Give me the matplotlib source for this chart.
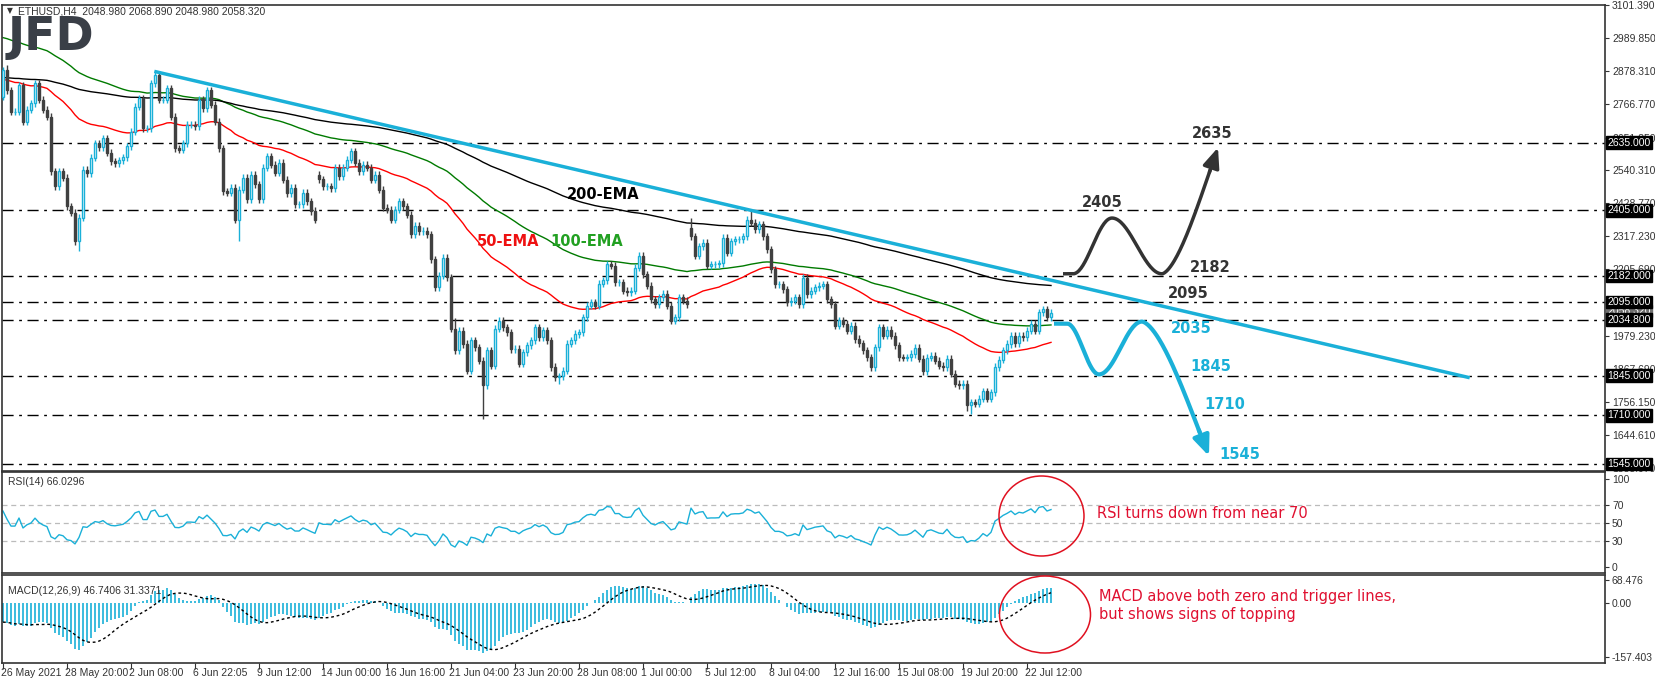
import numpy as np
import matplotlib
matplotlib.use("Agg")
import matplotlib.pyplot as plt
from matplotlib.patches import Ellipse
import matplotlib.transforms as mtrans

plt.rcParams['font.family'] = ['DejaVu Sans']
SMALL = dict(family='Liberation Sans', size=7.5)

# ---------------- data ----------------
closes = [
2880,2813,2740,2740,2830,2706,2746,2768,2836,2780,
2746,2723,2538,2487,2538,2515,2419,2397,2301,2380,
2543,2531,2583,2633,2620,2650,2600,2571,2565,2575,
2585,2622,2672,2757,2785,2684,2684,2836,2864,2780,
2780,2819,2723,2616,2611,2633,2695,2695,2690,2780,
2752,2813,2763,2706,2616,2470,2465,2481,2374,2475,
2515,2442,2526,2493,2442,2549,2588,2560,2532,2566,
2509,2464,2481,2425,2425,2464,2436,2403,2374,2510,
2487,2487,2481,2549,2520,2549,2577,2605,2566,2538,
2560,2549,2509,2526,2475,2414,2408,2374,2408,2436,
2419,2391,2324,2352,2335,2335,2324,2239,2144,2183,
2245,2178,2003,1930,1997,1952,1862,1964,1941,1896,
1812,1930,1879,2003,2031,
2008,1992,1935,1935,1885,1924,1947,1964,2008,1975,
1998,1964,1874,1840,1843,1862,1953,1964,1986,1992,
2042,2082,2093,2082,2157,2168,2222,2217,2161,2162,
2133,2127,2133,2211,2251,2189,2149,2104,2087,2110,
2123,2082,2031,2042,2110,2098,2087,2318,2251,2284,
2295,2217,2222,2222,2225,2313,2262,2301,2307,2307,
2318,2374,2363,2341,2358,2318,2273,2206,2155,2155,
2138,2093,2098,2110,2087,2177,2121,
2132,2144,2149,2155,2104,2087,2014,2033,2020,1997,
2014,1969,1955,1930,1907,1874,1941,2008,1980,2000,
1980,1947,1907,1905,1907,1918,1939,1902,1860,1905,
1913,1896,1879,1874,1902,1851,1817,1812,1817,1744,
1755,1750,1766,1792,1766,1789,1874,1899,1930,1952,
1980,1955,1980,1975,1997,2020,1997,2059,2070,2042,
2058.32]
first_open = 2790
open_gaps = {79: 2525, 172: 2346}
high_marks = {0: 2890, 1: 2898, 38: 2878, 172: 2378, 187: 2402, 113: 2040}
low_marks = {19: 2267, 59: 2301, 120: 1699, 241: 1725, 242: 1716, 139: 1815}
wick = 12

ema_seeds = {50: 2847, 100: 2993, 200: 2855}
ema_colors = {50: '#ff0000', 100: '#007a00', 200: '#000000'}

tick_labels = ["26 May 2021", "28 May 20:00", "2 Jun 08:00", "6 Jun 22:05", "9 Jun 12:00",
               "14 Jun 00:00", "16 Jun 16:00", "21 Jun 04:00", "23 Jun 20:00", "28 Jun 08:00",
               "1 Jul 00:00", "5 Jul 12:00", "8 Jul 04:00", "12 Jul 16:00", "15 Jul 08:00",
               "19 Jul 20:00", "22 Jul 12:00"]
tick_step = 16

price_ticks = [3101.390, 2989.850, 2878.310, 2766.770, 2651.850, 2540.310, 2428.770, 2317.230,
               2205.690, 1979.230, 1867.690, 1756.150, 1644.610, 1533.070]
levels = [2635.0, 2405.0, 2182.0, 2095.0, 2034.8, 1845.0, 1710.0, 1545.0]
last_price = 2058.32

trend_pts = [(38.25, 2875), (366.25, 1839)]
up_path = [(265, 2190), (267.5, 2190), (277.25, 2379), (289.75, 2190), (303.75, 2618)]
down_path = [(262.75, 2021), (266, 2021), (274, 1849), (284.75, 2028), (301.5, 1572)]

up_labels = [("2635", 302.25, 2666), ("2405", 274.75, 2433), ("2182", 301.75, 2210), ("2095", 296.25, 2122)]
dn_labels = [("2035", 297, 2004), ("1845", 302, 1876), ("1710", 305.5, 1748), ("1545", 309.25, 1579)]

# ---------------- derived ----------------
c = np.array(closes, dtype=float)
n = len(c)
x = np.arange(n)
o = np.empty(n)
o[0] = first_open
o[1:] = c[:-1]
for k, v in open_gaps.items():
    o[k] = v
hi = np.maximum(o, c) + wick
lo = np.minimum(o, c) - wick
for k, v in high_marks.items():
    hi[k] = max(hi[k], v)
for k, v in low_marks.items():
    lo[k] = min(lo[k], v)

def ema(vals, period, seed):
    a = 2.0 / (period + 1)
    out = np.empty(len(vals))
    prev = seed
    for i, v in enumerate(vals):
        prev = prev + a * (v - prev)
        out[i] = prev
    return out

d = np.diff(np.concatenate([[first_open], c]))
ag, al = 14.0, 12.0
rsi = np.empty(n)
for i, dv in enumerate(d):
    ag = (ag * 13 + max(dv, 0)) / 14
    al = (al * 13 + max(-dv, 0)) / 14
    rsi[i] = 100 - 100 / (1 + ag / al)

e12 = ema(c, 12, c[0]); e26 = ema(c, 26, c[0] + 60)
macd = e12 - e26
sig = np.array([macd[max(0, i - 8):i + 1].mean() for i in range(n)])

# ---------------- figure ----------------
fig = plt.figure(figsize=(16.55, 6.84), dpi=100)
W, H = 1655, 684
def axrect(top, bottom):
    return [2 / W, (H - bottom) / H, (1605 - 2) / W, (bottom - top) / H]
ax = fig.add_axes(axrect(5, 471))
axr = fig.add_axes(axrect(472, 573))
axm = fig.add_axes(axrect(575, 663))

xl = (-0.25, 400.5)
for a in (ax, axr, axm):
    a.set_xlim(*xl)
    for s in a.spines.values():
        s.set_color('#333333'); s.set_linewidth(1.2)
    a.yaxis.tick_right()
    a.tick_params(axis='y', colors='#333333', length=3, pad=2, labelcolor='#333333')
    a.tick_params(axis='x', length=0, labelbottom=False)

def style_ylabels(a):
    for t in a.get_yticklabels():
        t.set_fontfamily('Liberation Sans'); t.set_fontsize(7.5)

CY = '#1ab0d8'
ax.set_ylim(1521.4, 3094.6)
ax.set_yticks(price_ticks)
ax.set_yticklabels(["%.3f" % v for v in price_ticks])

bull = c >= o
ax.vlines(x, lo, hi, colors=np.where(bull, CY, '#404040'), linewidth=1, zorder=3)
ax.bar(x[bull], (c - o)[bull], bottom=o[bull], width=0.62, facecolor='white', edgecolor=CY, linewidth=1, zorder=4)
ax.bar(x[~bull], (c - o)[~bull], bottom=o[~bull], width=0.62, facecolor='#404040', edgecolor='#404040', linewidth=1, zorder=4)

for p, s in ema_seeds.items():
    ax.plot(x, ema(c, p, s), color=ema_colors[p], lw=1, zorder=2)

for lv in levels:
    ax.axhline(lv, color='black', lw=1, ls=(0, (8, 4, 2, 4)), zorder=1)

bt = mtrans.blended_transform_factory(ax.transAxes, ax.transData)
for lv in levels:
    ax.text(1.0015, lv, "%.3f" % lv, transform=bt, color='white', va='center', ha='left',
            bbox=dict(boxstyle='square,pad=0.12', fc='black', ec='black'), zorder=10, clip_on=False, **SMALL)
ax.text(1.0015, last_price + 6, "%.3f" % last_price, transform=bt, color='white', va='center',
        ha='left', bbox=dict(boxstyle='square,pad=0.12', fc='#707070', ec='#707070'), zorder=9, clip_on=False, **SMALL)

ax.plot([p[0] for p in trend_pts], [p[1] for p in trend_pts], color=CY, lw=2.5, zorder=5)

def scen_path(pts):
    xs, ys = [pts[0][0], pts[1][0]], [pts[0][1], pts[1][1]]
    for j in (1, 2):
        (x0, y0), (x1, y1) = pts[j], pts[j + 1]
        t = np.linspace(0, 1, 40)
        xs += list(x0 + (x1 - x0) * t); ys += list(y0 + (y1 - y0) * (1 - np.cos(np.pi * t)) / 2)
    (x0, y0), (x1, y1) = pts[3], pts[4]
    t = np.linspace(0, 1, 60)
    xs += list(x0 + (x1 - x0) * t)
    ys += list(y0 + (y1 - y0) * (1 - np.cos(np.pi / 2 * t)) ** 0.8)
    return np.array(xs), np.array(ys)

for pts, col, lw in ((up_path, '#333333', 2.5), (down_path, CY, 3)):
    px, py = scen_path(pts)
    ax.plot(px[:-8], py[:-8], color=col, lw=lw, zorder=6, solid_capstyle='butt')
    ax.annotate('', xy=(px[-1], py[-1]), xytext=(px[-10], py[-10]),
                arrowprops=dict(arrowstyle='-|>,head_length=1.2,head_width=0.5', color=col, lw=lw,
                                shrinkA=0, shrinkB=0), zorder=7)

for t_, xx, yy in up_labels:
    ax.text(xx, yy, t_, color='#333333', fontsize=10.5, fontweight='bold', ha='center', va='center', zorder=8)
for t_, xx, yy in dn_labels:
    ax.text(xx, yy, t_, color=CY, fontsize=10.5, fontweight='bold', ha='center', va='center', zorder=8)

ax.text(150, 2460, "200-EMA", color='black', fontsize=10.5, fontweight='bold', ha='center', va='center')
ax.text(126.25, 2301, "50-EMA", color='#ee1111', fontsize=10.5, fontweight='bold', ha='center', va='center')
ax.text(146, 2301, "100-EMA", color='#22a022', fontsize=10.5, fontweight='bold', ha='center', va='center')

fig.text(7 / W, 1 - 11 / H, "\u25BC", fontsize=5.5, color='#333333', va='center')
fig.text(18 / W, 1 - 11 / H, "ETHUSD,H4  2048.980 2068.890 2048.980 2058.320",
         color='#333333', va='center', **SMALL)
fig.text(8 / W, 1 - 37 / H, "JFD", fontsize=33, fontweight='bold', color='#3a3f47', va='center')

# RSI
axr.set_ylim(-6.8, 108)
axr.set_yticks([100, 70, 50, 30, 0])
for lv in (70, 50, 30):
    axr.axhline(lv, color='#bbbbbb', lw=0.9, ls=(0, (4, 3)))
axr.plot(x, rsi, color=CY, lw=1)
axr.text(0.004, 0.87, "RSI(14) 66.0296", transform=axr.transAxes, color='#333333', **SMALL)
tf = fig.transFigure
fig.patches.append(Ellipse((1041.5 / W, 1 - 516 / H), 85 / W, 80 / H, transform=tf, fill=False,
                           ec='#e01020', lw=1.1))
fig.text(1097 / W, 1 - 514 / H, "RSI turns down from near 70", color='#e01030', fontsize=10.5, va='center')

# MACD
axm.set_ylim(-176, 83.4)
axm.set_yticks([68.476, 0.0, -157.403])
axm.set_yticklabels(["68.476", "0.00", "-157.403"])
axm.vlines(x, 0, macd, colors=CY, lw=1.2)
axm.plot(x, sig, color='black', lw=1, ls=(0, (2, 2)))
axm.text(0.004, 0.78, "MACD(12,26,9) 46.7406 31.3371", transform=axm.transAxes, color='#333333', **SMALL)
fig.patches.append(Ellipse((1045 / W, 1 - 614.5 / H), 91 / W, 77 / H, transform=tf, fill=False,
                           ec='#e01020', lw=1.1))
fig.text(1099 / W, 1 - 596 / H, "MACD above both zero and trigger lines,", color='#e01030', fontsize=10.5, va='center')
fig.text(1099 / W, 1 - 615 / H, "but shows signs of topping", color='#e01030', fontsize=10.5, va='center')

for a in (ax, axr, axm):
    style_ylabels(a)

ticks = [i * tick_step for i in range(len(tick_labels))]
axm.set_xticks(ticks)
axm.tick_params(axis='x', length=4, direction='out', colors='#333333')
for tk, lb in zip(ticks, tick_labels):
    axm.text(tk - 0.5, -0.06, lb, transform=mtrans.blended_transform_factory(axm.transData, axm.transAxes),
             color='#333333', ha='left', va='top', **SMALL)

fig.savefig("out.png", dpi=100, facecolor='white')
